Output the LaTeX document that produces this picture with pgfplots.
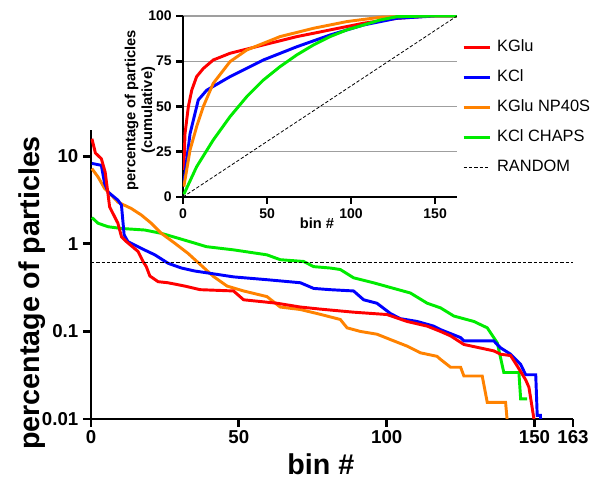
\documentclass[border=0pt]{standalone}
\usepackage{fontspec}
\setmainfont{Liberation Sans}
\usepackage{pgfplots}
\pgfplotsset{compat=1.18}
\definecolor{cKGlu}{RGB}{255,0,0}
\definecolor{cKCl}{RGB}{0,0,255}
\definecolor{cNP}{RGB}{255,130,0}
\definecolor{cCHAPS}{RGB}{0,235,0}

\pgfplotsset{
  prism/.style={
    scale only axis,
    axis lines=left,
    axis line style={-, line width=2.2pt, black},
    tick style={black, line width=2.2pt},
    tick align=outside,
    major tick length=6pt,
    xminorticks=false, yminorticks=false,
    clip mode=individual,
    /pgf/number format/assume math mode=true,
  },
}

\begin{document}
\begin{tikzpicture}
\useasboundingbox (0,0) rectangle (445.5pt,360.75pt);

% main panel
\begin{axis}[
    prism,
    at={(68.25pt,46.5pt)}, anchor=south west,
    width=361.5pt, height=216.75pt,
    xmin=0, xmax=163,
    ymode=log, ymin=0.01, ymax=20,
    xtick={0,50,100,150,163},
    xticklabels={0,50,100,150,163},
    ytick={0.01,0.1,1,10},
    yticklabels={0.01,0.1,1,10},
    tick label style={font=\bfseries\fontsize{14}{14}\selectfont},
    xticklabel style={yshift=1pt},
    xlabel={bin \#},
    ylabel={percentage of particles},
    label style={font=\bfseries\fontsize{21.5}{22}\selectfont},
    xlabel style={at={(axis description cs:0.477,-0.156)}, anchor=center},
    ylabel style={at={(axis description cs:-0.122,0.436)}, anchor=center, rotate=0},
    every axis plot/.append style={line width=2.2pt},
  ]
  \addplot[cCHAPS] coordinates {
    (0.3,2.0) (2.4,1.72) (5.8,1.57) (10.3,1.5) (18.2,1.44) (23.8,1.32) (29.5,1.16)
    (35.1,1.02) (39,0.93) (48.2,0.855) (59.5,0.75) (64,0.66) (71.9,0.63) (75.3,0.55)
    (80.9,0.53) (84.3,0.51) (88.8,0.41) (95.5,0.36) (102.4,0.31) (108,0.275)
    (113.7,0.21) (118.2,0.186) (122.7,0.15) (129.5,0.13) (134,0.11) (137.4,0.074)
    (139.6,0.034) (144.7,0.034) (145.3,0.017) (147.5,0.017)};
  \addplot[cNP] coordinates {
    (0.3,7.25) (2.4,5.8) (4.6,4.3) (6.9,3.6) (9.1,3.0) (13.6,2.54) (17,2.14) (20.4,1.72)
    (23.8,1.32) (28.3,1.02) (32.8,0.78) (36.5,0.6) (41.4,0.425) (46,0.33) (51.6,0.29)
    (59.5,0.25) (64,0.19) (70.8,0.178) (77.5,0.157) (84.3,0.137) (86.6,0.11) (91.1,0.1)
    (96.7,0.093) (102.4,0.078) (106.9,0.068) (111.4,0.057) (117,0.052) (118.2,0.048)
    (121.6,0.039) (125,0.039) (126.1,0.031) (132.3,0.031) (134,0.0155) (140.2,0.0155)
    (140.7,0.01) (141,0.005)};
  \addplot[cKCl] coordinates {
    (0.3,8.3) (3.5,7.9) (4.6,4.9) (5.8,3.9) (9.1,3.16) (10.3,2.77) (11.2,1.27) (12.5,1.06)
    (14.8,0.97) (18.2,0.85) (21.6,0.75) (26.1,0.6) (30.6,0.53) (35.1,0.49) (39.6,0.465)
    (48.2,0.42) (59.5,0.39) (70.8,0.36) (75.3,0.31) (80.9,0.30) (88.8,0.29) (92.2,0.23)
    (96.7,0.21) (101.3,0.16) (104.6,0.14) (110.3,0.13) (115.9,0.115) (118.2,0.105)
    (125,0.085) (126.1,0.078) (136.2,0.078) (138.5,0.065) (141.9,0.055) (145.3,0.042)
    (147,0.032) (150.4,0.032) (150.9,0.011) (152,0.011) (152.3,0.005)};
  \addplot[cKGlu] coordinates {
    (0.3,15.9) (1.5,10.9) (3.5,9.4) (4.8,6.6) (6.3,2.65) (9.1,1.72) (10.3,1.21) (12,1.06)
    (15.9,0.82) (17.6,0.63) (18.7,0.55) (19.9,0.43) (22.7,0.37) (26,0.36) (31.7,0.33)
    (36.9,0.30) (48.2,0.29) (51.6,0.23) (62.9,0.21) (70.8,0.19) (77.5,0.18) (88.8,0.166)
    (100.1,0.156) (106.9,0.13) (113.7,0.115) (118.2,0.1) (121.6,0.089) (126.1,0.071)
    (136.2,0.06) (138.5,0.055) (141.9,0.053) (144.2,0.04) (147,0.028) (148.1,0.023)
    (149.8,0.01) (150,0.005)};
  \addplot[black, line width=0.6pt, dash pattern=on 2.5pt off 1.5pt] coordinates {(0,0.613) (163,0.613)};
\end{axis}

% inset: cumulative
\begin{axis}[
    prism,
    at={(137.25pt,213pt)}, anchor=south west,
    width=205.5pt, height=135.75pt,
    xmin=0, xmax=163, ymin=0, ymax=100,
    xtick={0,50,100,150},
    ytick={0,25,50,75,100},
    ymajorgrids, grid style={gray!75, line width=0.9pt},
    axis line style={-, line width=2pt, black},
    tick style={black, line width=2pt},
    major tick length=5pt,
    tick label style={font=\bfseries\fontsize{10.5}{11}\selectfont},
    xlabel={bin \#},
    ylabel={percentage of particles\\(cumulative)},
    label style={font=\bfseries\fontsize{11}{12.5}\selectfont, align=center},
    xlabel style={at={(axis description cs:0.489,-0.144)}, anchor=center},
    ylabel style={at={(axis description cs:-0.157,0.48)}, anchor=center, rotate=0},
    every axis plot/.append style={line width=2.2pt},
    legend style={draw=none, fill=none, inner sep=0pt,
      at={(axis description cs:1.018,0.89)}, anchor=north west,
      font=\fontsize{12.3}{13}\selectfont, row sep=6pt, column sep=2pt,
      nodes={text height=9.5pt, text depth=3pt, inner sep=2pt},
      cells={anchor=west}},
    legend image code/.code={\draw[#1] (0pt,0pt) -- (20pt,0pt);},
  ]
  \addplot[cKGlu] coordinates {
    (0.5,15) (1.2,35) (3.2,50) (5.2,59) (8.1,66.5) (12.1,71) (18,75.7) (28,79.4)
    (47.8,84) (67.7,88.6) (87.5,92.3) (107.3,96) (127.2,98.7) (147,100) (163,100)};
  \addlegendentry{KGlu}
  \addplot[cKCl] coordinates {
    (0.5,7.6) (4.2,35) (9.1,53.6) (14.1,59) (28,66.5) (47.8,75.7) (67.7,83) (87.5,89.5)
    (107.3,95) (127,98.7) (150,100) (163,100)};
  \addlegendentry{KCl}
  \addplot[cNP] coordinates {
    (0.5,5.7) (4.2,26) (8.1,38.8) (12.1,50) (18,62.8) (28,74.8) (37.9,81.2) (57.7,88.6)
    (77.6,93.2) (97.4,96.9) (117.3,99.3) (140,100) (163,100)};
  \addlegendentry{KGlu NP40S}
  \addplot[cCHAPS] coordinates {
    (0.5,1.5) (8.1,16.7) (18,31.5) (28,44.4) (37.9,55.4) (47.8,64.6) (57.7,72) (67.7,78.5)
    (77.6,84) (87.5,88.6) (97.4,92.3) (107.3,95) (117.3,97.8) (127,99.6) (147,100) (163,100)};
  \addlegendentry{KCl CHAPS}
  \addplot[black, line width=0.6pt, dash pattern=on 2.5pt off 1.5pt] coordinates {(0,0) (163,100)};
  \addlegendentry{RANDOM}
\end{axis}
\end{tikzpicture}
\end{document}
